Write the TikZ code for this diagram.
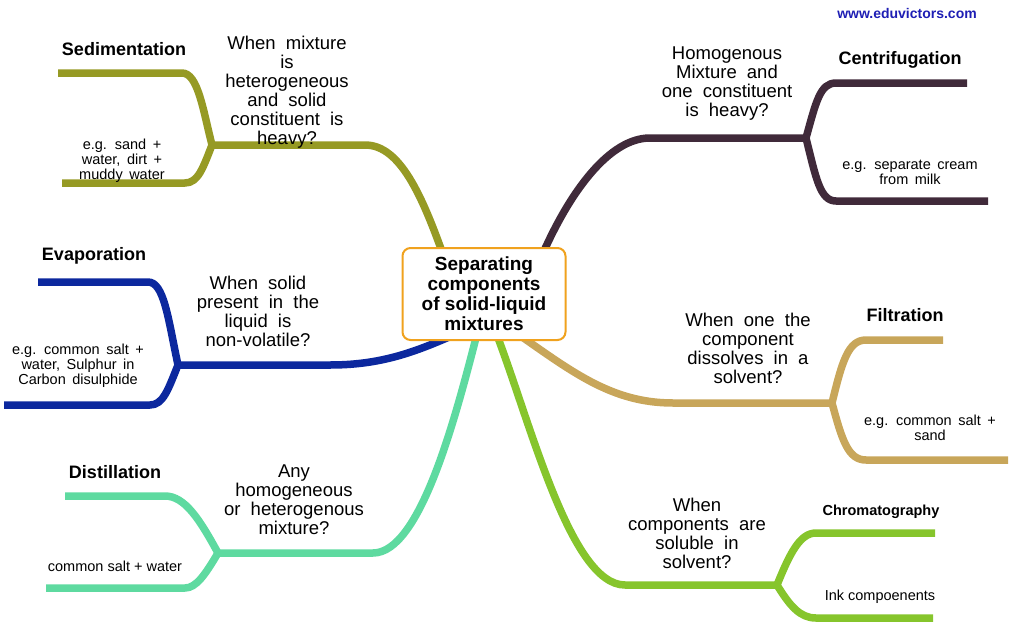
\documentclass[tikz,border=0pt]{standalone}
\usepackage{fontspec}
\setmainfont{Liberation Sans}
\usepackage{tikz}
\usetikzlibrary{calc}

\definecolor{olive}{RGB}{150,154,36}
\definecolor{plum}{RGB}{64,42,58}
\definecolor{royal}{RGB}{12,40,158}
\definecolor{tan}{RGB}{200,166,90}
\definecolor{mint}{RGB}{94,218,160}
\definecolor{lime}{RGB}{134,197,44}
\definecolor{hubline}{RGB}{240,162,30}
\definecolor{webblue}{RGB}{30,30,180}

\begin{document}
\begin{tikzpicture}[x=1pt, y=-1pt,
    branch/.style = {line width=7.5pt, line cap=butt, line join=round},
    hub/.style = {draw=hubline, line width=2pt, rounded corners=8pt, fill=white,
        minimum width=163pt, minimum height=92pt, align=center,
        font=\bfseries\fontsize{19}{20}\selectfont},
    method/.style = {inner sep=0pt, font=\bfseries\fontsize{18}{19}\selectfont},
    question/.style = {inner sep=0pt, align=center, font=\fontsize{18.5}{19}\selectfont,
        execute at begin node={\spaceskip=0.55em plus 0.1em\relax}},
    example/.style = {inner sep=0pt, align=center, font=\fontsize{14.5}{15}\selectfont,
        execute at begin node={\spaceskip=0.45em plus 0.1em\relax}},
    plain/.style = {inner sep=0pt, font=\fontsize{14.5}{15}\selectfont}]
    \useasboundingbox (0,0) rectangle (1028,635);

    % junctions and leaf ends
    \coordinate (sedJ) at (212,145);
    \coordinate (sedA) at (58,73);
    \coordinate (sedB) at (62,183);
    \coordinate (cenJ) at (806,138);
    \coordinate (cenA) at (967,83);
    \coordinate (cenB) at (988,201);
    \coordinate (evaJ) at (178,365);
    \coordinate (evaA) at (38,282);
    \coordinate (evaB) at (4,405);
    \coordinate (filJ) at (832,403);
    \coordinate (filA) at (943,340);
    \coordinate (filB) at (1008,460);
    \coordinate (disJ) at (218,553);
    \coordinate (disA) at (65,496);
    \coordinate (disB) at (46,588);
    \coordinate (chrJ) at (777,585);
    \coordinate (chrA) at (935,533);
    \coordinate (chrB) at (933,618);

    % trunks
    \draw [branch, olive] (sedJ) -- (365,145) .. controls (400,145) and (422,195) .. (445,260);
    \draw [branch, plum] (cenJ) -- (650,138) .. controls (610,138) and (570,190) .. (540,260);
    \draw [branch, royal] (evaJ) -- (330,365) .. controls (385,365) and (420,350) .. (465,330);
    \draw [branch, tan] (filJ) -- (673,403) .. controls (610,403) and (570,370) .. (512,330);
    \draw [branch, mint] (disJ) -- (373,553) .. controls (420,553) and (455,420) .. (478,330);
    \draw [branch, lime] (chrJ) -- (625,585) .. controls (570,585) and (530,420) .. (495,330);

    % leaves
    \draw [branch, olive] (sedJ) .. controls (203,110) and (198,73) .. (182,73) -- (sedA);
    \draw [branch, olive] (sedJ) .. controls (203,168) and (198,183) .. (185,183) -- (sedB);
    \draw [branch, plum] (cenJ) .. controls (816,102) and (820,83) .. (836,83) -- (cenA);
    \draw [branch, plum] (cenJ) .. controls (816,178) and (820,201) .. (836,201) -- (cenB);
    \draw [branch, royal] (evaJ) .. controls (168,318) and (164,282) .. (148,282) -- (evaA);
    \draw [branch, royal] (evaJ) .. controls (168,390) and (163,405) .. (150,405) -- (evaB);
    \draw [branch, tan] (filJ) .. controls (842,362) and (848,340) .. (866,340) -- (filA);
    \draw [branch, tan] (filJ) .. controls (842,440) and (848,460) .. (866,460) -- (filB);
    \draw [branch, mint] (disJ) .. controls (200,520) and (185,496) .. (165,496) -- (disA);
    \draw [branch, mint] (disJ) .. controls (205,575) and (196,588) .. (185,588) -- (disB);
    \draw [branch, lime] (chrJ) .. controls (790,553) and (800,533) .. (816,533) -- (chrA);
    \draw [branch, lime] (chrJ) .. controls (790,606) and (800,618) .. (816,618) -- (chrB);

    \node [hub] (hub) at (484,294) {Separating\\components\\of solid-liquid\\mixtures};

    \node [method] (sed) at (124,49) {Sedimentation};
    \node [question] (sedQ) at (287,92) {When mixture\\is\\heterogeneous\\and solid\\constituent is\\heavy?};
    \node [example] (sedE) at (122,161) {e.g. sand +\\water, dirt +\\muddy water};

    \node [method] (cen) at (900,60) {Centrifugation};
    \node [question] (cenQ) at (727,84) {Homogenous\\Mixture and\\one constituent\\is heavy?};
    \node [example] (cenE) at (910,172) {e.g. separate cream\\from milk};

    \node [method] (eva) at (94,256) {Evaporation};
    \node [question] (evaQ) at (258,311) {When solid\\present in the\\liquid is\\non-volatile?};
    \node [example] (evaE) at (78,366) {e.g. common salt +\\water, Sulphur in\\Carbon disulphide};

    \node [method] (fil) at (905,315) {Filtration};
    \node [question] (filQ) at (748,348) {When one the\\component\\dissolves in a\\solvent?};
    \node [example] (filE) at (930,428) {e.g. common salt +\\sand};

    \node [method] (dis) at (115,472) {Distillation};
    \node [question] (disQ) at (294,500) {Any\\homogeneous\\or heterogenous\\mixture?};
    \node [plain] (disE) at (115,566) {common salt + water};

    \node [method, font=\bfseries\fontsize{14.5}{15}\selectfont] (chr) at (881,512) {Chromatography};
    \node [question] (chrQ) at (697,533) {When\\components are\\soluble in\\solvent?};
    \node [plain] (chrE) at (880,597) {Ink compoenents};

    \node [inner sep=0pt, font=\bfseries\fontsize{14}{15}\selectfont, text=webblue] (web) at (907,13) {www.eduvictors.com};

\end{tikzpicture}
\end{document}
